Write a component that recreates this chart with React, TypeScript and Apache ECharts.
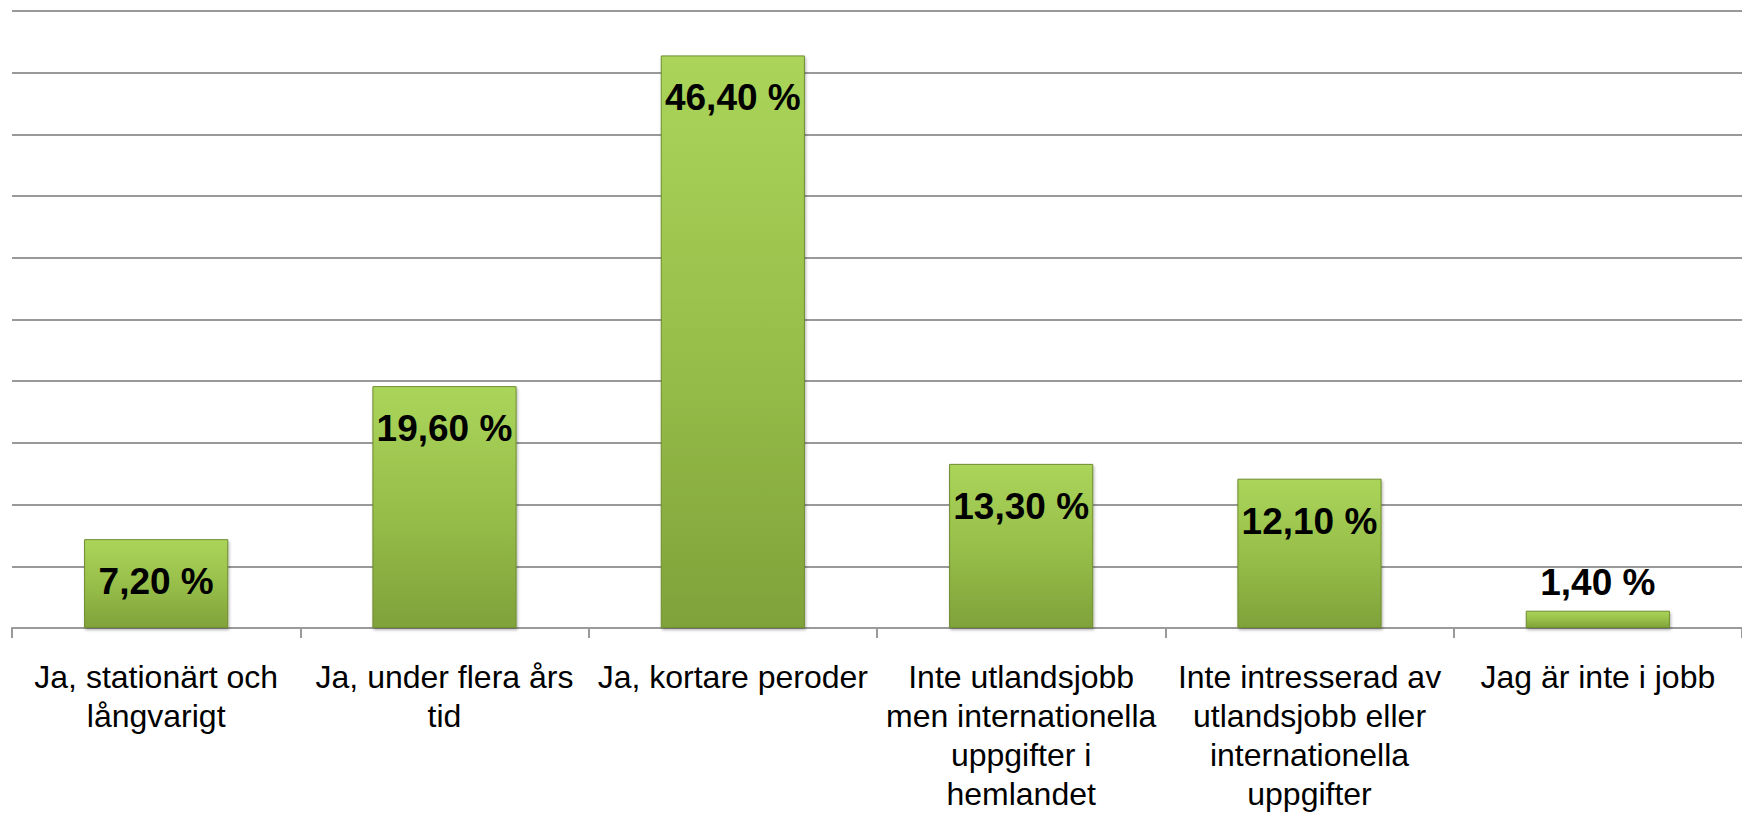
import React, { useEffect, useRef } from "react";
import * as echarts from "echarts";

const categories: string[] = [
  "Ja, stationärt och\nlångvarigt",
  "Ja, under flera års\ntid",
  "Ja, kortare peroder",
  "Inte utlandsjobb\nmen internationella\nuppgifter i\nhemlandet",
  "Inte intresserad av\nutlandsjobb eller\ninternationella\nuppgifter",
  "Jag är inte i jobb",
];

const values: number[] = [7.2, 19.6, 46.4, 13.3, 12.1, 1.4];

const yMin = 0;
const yMax = 50;
const yInterval = 5;

const FONT = "Arial, 'Liberation Sans', sans-serif";

export default function App() {
  const ref = useRef<HTMLDivElement>(null);

  useEffect(() => {
    document.body.style.margin = "0";
    if (!ref.current) return;
    const chart = echarts.init(ref.current, null, { renderer: "svg" });

    const data = values.map((v) =>
      v < 5
        ? { value: v, label: { position: "top", distance: 10 } }
        : { value: v }
    );

    chart.setOption({
      animation: false,
      backgroundColor: "#ffffff",
      grid: { left: 12, top: 11, width: 1740, height: 626, containLabel: false },
      xAxis: {
        type: "category",
        data: categories,
        axisLine: { show: true, lineStyle: { color: "#9a9a9a", width: 2 } },
        axisTick: { show: true, length: 10, inside: false, alignWithLabel: false, lineStyle: { color: "#9a9a9a", width: 2 } },
        axisLabel: {
          interval: 0,
          margin: 29,
          fontSize: 32,
          lineHeight: 39,
          color: "#000000",
          fontFamily: FONT,
          align: "center",
        },
        splitLine: { show: false },
      },
      yAxis: {
        type: "value",
        min: yMin,
        max: yMax,
        interval: yInterval,
        axisLabel: { show: false },
        axisLine: { show: false },
        axisTick: { show: false },
        splitLine: { show: true, lineStyle: { color: "#999999", width: 2 } },
      },
      series: [
        {
          type: "bar",
          data,
          barWidth: "50%",
          itemStyle: {
            color: new echarts.graphic.LinearGradient(0, 0, 0, 1, [
              { offset: 0, color: "#aad55a" },
              { offset: 0.5, color: "#98bf4a" },
              { offset: 1, color: "#80a23a" },
            ]),
            borderColor: "#6f8d2f",
            borderWidth: 1,
            shadowColor: "rgba(0,0,0,0.3)",
            shadowBlur: 3,
            shadowOffsetX: 1,
            shadowOffsetY: 2,
          },
          label: {
            show: true,
            position: "insideTop",
            distance: 24,
            fontSize: 37,
            fontWeight: "bold",
            fontFamily: FONT,
            color: "#000000",
            formatter: (p: any) => p.value.toFixed(2).replace(".", ",") + " %",
          },
        },
      ],
    });

    return () => chart.dispose();
  }, []);

  return <div ref={ref} style={{ width: 1742, height: 813 }} />;
}
